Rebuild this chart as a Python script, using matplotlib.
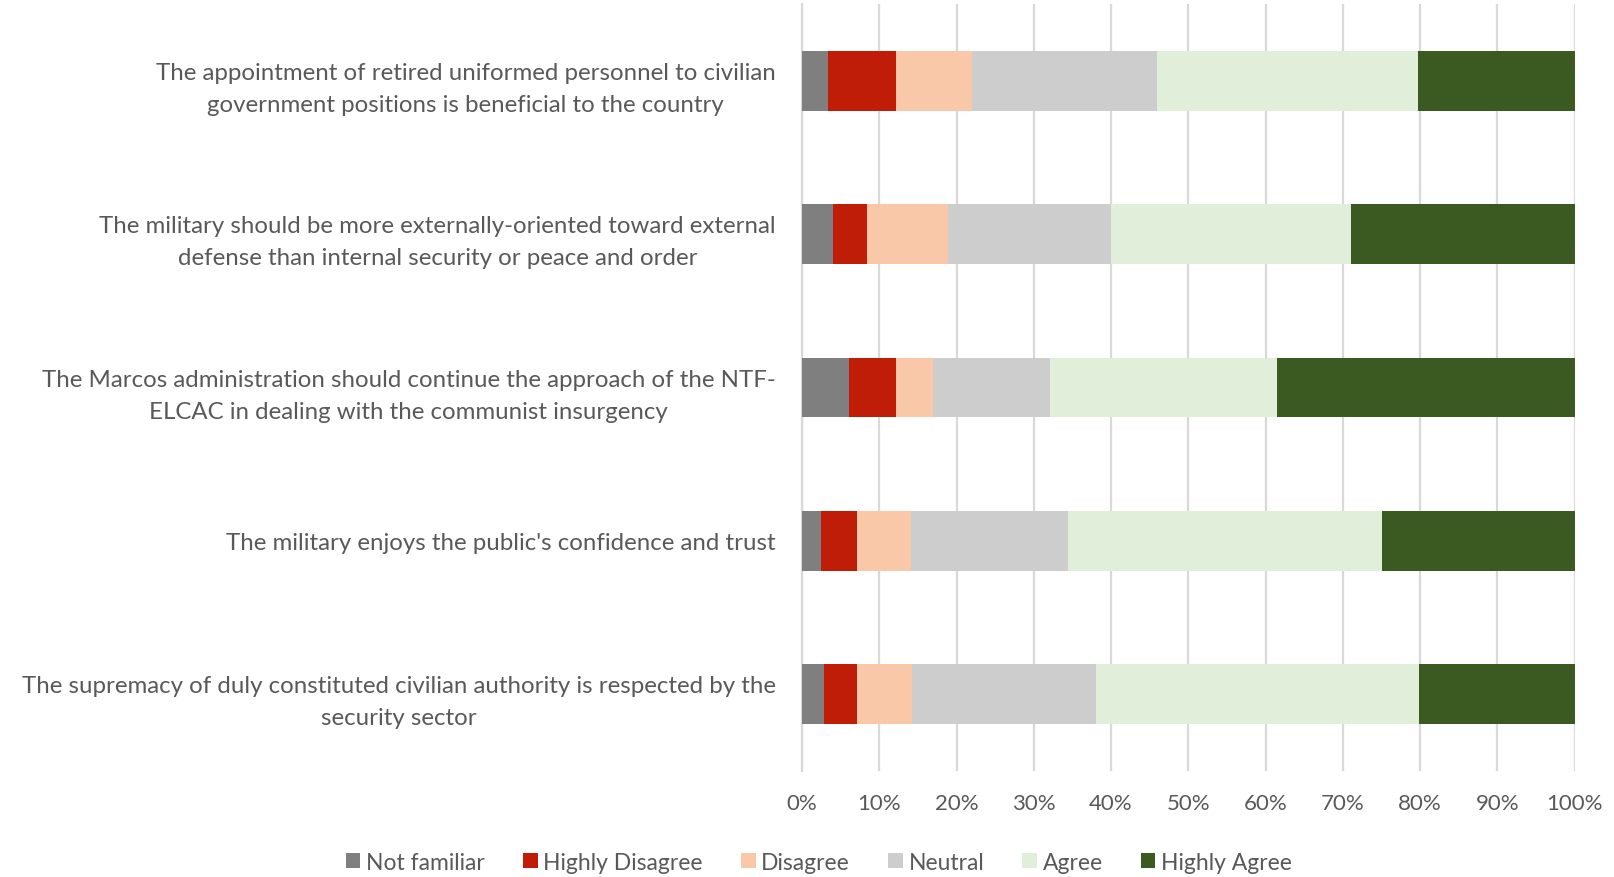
import matplotlib
matplotlib.use("Agg")
import matplotlib.pyplot as plt
from matplotlib.ticker import PercentFormatter

statements = [
    "The appointment of retired uniformed personnel to civilian\ngovernment positions is beneficial to the country",
    "The military should be more externally-oriented toward external\ndefense than internal security or peace and order",
    "The Marcos administration should continue the approach of the NTF-\nELCAC in dealing with the communist insurgency",
    "The military enjoys the public's confidence and trust",
    "The supremacy of duly constituted civilian authority is respected by the\nsecurity sector",
]

responses = ["Not familiar", "Highly Disagree", "Disagree", "Neutral", "Agree", "Highly Agree"]

not_familiar    = [3.4, 4.0, 6.1, 2.4, 2.8]
highly_disagree = [8.8, 4.4, 6.1, 4.7, 4.3]
disagree        = [9.8, 10.5, 4.8, 7.0, 7.1]
neutral         = [23.9, 21.1, 15.1, 20.3, 23.8]
agree           = [33.8, 31.0, 29.4, 40.7, 41.9]
highly_agree    = [20.3, 29.0, 38.5, 24.9, 20.1]

series = [not_familiar, highly_disagree, disagree, neutral, agree, highly_agree]
colors = ["#7f7f7f", "#c01d08", "#f8c8a8", "#cecdcd", "#e1eed9", "#3a5a22"]

text_color = "#595959"
plt.rcParams["font.family"] = ["Lato", "DejaVu Sans"]

fig = plt.figure(figsize=(16.15, 8.78), dpi=100)
ax = fig.add_axes([0.4966, 0.121, 0.4784, 0.873])

ypos = list(range(len(statements)))
left = [0.0] * len(statements)
for name, vals, col in zip(responses, series, colors):
    ax.barh(ypos, vals, left=left, height=0.39, color=col, label=name, zorder=3)
    left = [l + v for l, v in zip(left, vals)]

ax.set_xlim(0, 100)
ax.set_ylim(len(statements) - 0.5, -0.5)
ax.set_xticks(range(0, 101, 10))
ax.xaxis.set_major_formatter(PercentFormatter(decimals=0))
ax.set_yticks(ypos)
ax.set_yticklabels(statements, multialignment="center", linespacing=1.65, fontsize=17.3,
                   va="center_baseline")

ax.grid(axis="x", color="#d9d9d9", linewidth=1.6, zorder=0)
for s in ["top", "right", "bottom"]:
    ax.spines[s].set_visible(False)
ax.spines["left"].set_color("#d9d9d9")
ax.spines["left"].set_linewidth(1.6)

ax.tick_params(axis="both", length=0, colors=text_color)
ax.tick_params(axis="x", pad=16, labelsize=16)
ax.tick_params(axis="y", pad=19)

leg = fig.legend(loc="center", bbox_to_anchor=(0.507, 0.017), ncol=6, frameon=False,
                 fontsize=16.5, handlelength=0.65, handleheight=0.65, handletextpad=0.25,
                 columnspacing=1.65)
for t in leg.get_texts():
    t.set_color(text_color)

fig.savefig("out.png", dpi=100)
